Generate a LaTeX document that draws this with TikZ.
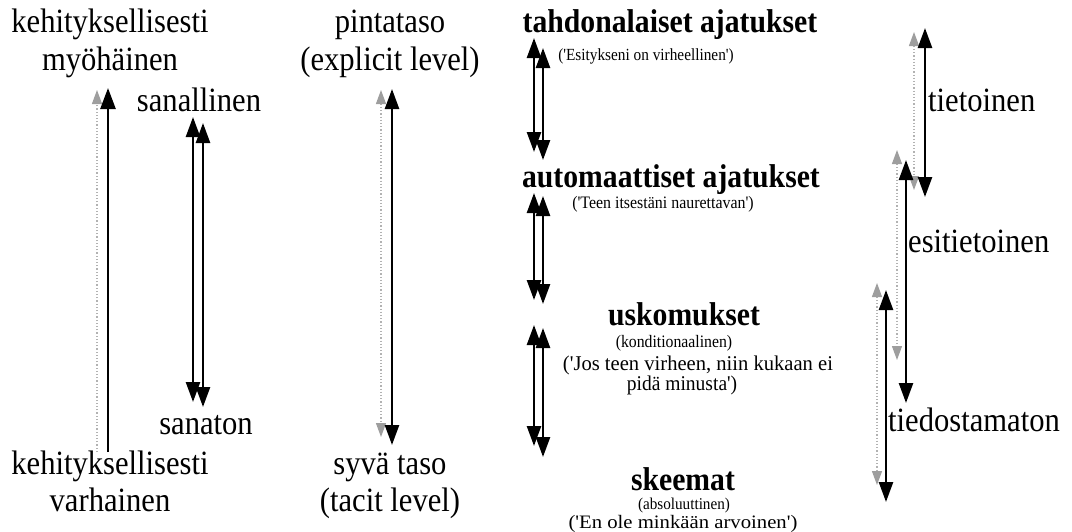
\documentclass[tikz,border=0pt]{standalone}
\usepackage{fontspec}
\setmainfont{Liberation Serif}[Ligatures=TeXOff]
\usetikzlibrary{arrows.meta}

\tikzset{
  big/.style={font=\fontsize{34}{38}\selectfont\addfontfeatures{FakeStretch=0.9}, inner sep=0pt, anchor=base},
  title/.style={font=\bfseries\fontsize{33}{37}\selectfont\addfontfeatures{FakeStretch=0.9}, inner sep=0pt, anchor=base},
  small/.style 2 args={font=\fontsize{#1}{#1}\selectfont\addfontfeatures{FakeStretch=#2}, inner sep=0pt, anchor=base},
  up/.style={line width=2.6pt, -{Triangle[width=15pt,length=21pt]}},
  both/.style={line width=2.5pt, {Triangle[width=14pt,length=20pt]}-{Triangle[width=14pt,length=20pt]}},
  ghost/.style={draw=black!30, dotted, line width=1.2pt},
  ghostup/.style={ghost, -{Triangle[width=10pt,length=14pt,color=black!38]}},
  ghostboth/.style={ghost, {Triangle[width=10pt,length=14pt,color=black!38]}-{Triangle[width=10pt,length=14pt,color=black!38]}}
}

\begin{document}
\begin{tikzpicture}[x=1pt,y=-1pt]
\useasboundingbox (0,0) rectangle (1072,531);

% ---- developmental axis ----
\node[big] (kehT)  at (110,32)  {kehityksellisesti};
\node[big] (myoh)  at (110,70)  {myöhäinen};
\node[big] (kehB)  at (110,474) {kehityksellisesti};
\node[big] (varh)  at (110,511) {varhainen};
\node[big] (sanal) at (199,111) {sanallinen};
\node[big] (sanat) at (206,434) {sanaton};

\coordinate (a1b) at (108,452);  \coordinate (a1t) at (108,88);
\coordinate (g1b) at (97,452);   \coordinate (g1t) at (97,90);
\draw[ghostup] (g1b) -- (g1t);
\draw[up] (a1b) -- (a1t);

\coordinate (s1t) at (193,117);  \coordinate (s1b) at (193,402);
\coordinate (s2t) at (203,123);  \coordinate (s2b) at (203,407);
\draw[both] (s1t) -- (s1b);
\draw[both] (s2t) -- (s2b);

% ---- level axis ----
\node[big] (pint)  at (390,32)  {pintataso};
\node[big] (expl)  at (390,70)  {(explicit level)};
\node[big] (syva)  at (390,474) {syvä taso};
\node[big] (tacit) at (390,511) {(tacit level)};

\coordinate (l1t) at (392,89);   \coordinate (l1b) at (392,445);
\coordinate (g2t) at (381,90);   \coordinate (g2b) at (381,437);
\draw[ghostboth] (g2t) -- (g2b);
\draw[both] (l1t) -- (l1b);

% ---- cognition levels ----
\node[title] (tahd) at (670,32)  {tahdonalaiset ajatukset};
\node[small={17}{0.9}]    (esit) at (646,60)  {('Esitykseni on virheellinen')};
\node[title] (auto) at (671,187) {automaattiset ajatukset};
\node[small={17.5}{0.91}] (teen) at (663,208) {('Teen itsestäni naurettavan')};
\node[title] (usko) at (684,325) {uskomukset};
\node[small={17.5}{0.9}]  (kond) at (674,347) {(konditionaalinen)};
\node[small={21}{0.98}]   (jos)  at (698,370) {('Jos teen virheen, niin kukaan ei};
\node[small={21}{0.93}]   (pida) at (682,390) {pidä minusta')};
\node[title] (skee) at (683,490) {skeemat};
\node[small={16.5}{0.92}] (abso) at (684,509) {(absoluuttinen)};
\node[small={19}{1.09}]   (enol) at (683,528) {('En ole minkään arvoinen')};

\coordinate (p1lt) at (534,38);  \coordinate (p1lb) at (534,152);
\coordinate (p1rt) at (543,48);  \coordinate (p1rb) at (543,160);
\coordinate (p2lt) at (534,193); \coordinate (p2lb) at (534,300);
\coordinate (p2rt) at (543,196); \coordinate (p2rb) at (543,304);
\coordinate (p3lt) at (534,325); \coordinate (p3lb) at (534,446);
\coordinate (p3rt) at (543,328); \coordinate (p3rb) at (543,457);
\draw[both] (p1lt) -- (p1lb);
\draw[both] (p1rt) -- (p1rb);
\draw[both] (p2lt) -- (p2lb);
\draw[both] (p2rt) -- (p2rb);
\draw[both] (p3lt) -- (p3lb);
\draw[both] (p3rt) -- (p3rb);

% ---- awareness axis ----
\node[big, anchor=base west] (tiet) at (928,111) {tietoinen};
\node[big, anchor=base west] (esti) at (908,252) {esitietoinen};
\node[big, anchor=base west] (tied) at (888,431) {tiedostamaton};

\coordinate (g3t) at (914,32);  \coordinate (g3b) at (914,190);
\coordinate (g4t) at (897,150); \coordinate (g4b) at (897,360);
\coordinate (g5t) at (877,283); \coordinate (g5b) at (877,485);
\draw[ghostboth] (g3t) -- (g3b);
\draw[ghostboth] (g4t) -- (g4b);
\draw[ghostboth] (g5t) -- (g5b);

\coordinate (t1t) at (925,28);  \coordinate (t1b) at (925,197);
\coordinate (t2t) at (906,160); \coordinate (t2b) at (906,403);
\coordinate (t3t) at (886,290); \coordinate (t3b) at (886,502);
\draw[both] (t1t) -- (t1b);
\draw[both] (t2t) -- (t2b);
\draw[both] (t3t) -- (t3b);
\end{tikzpicture}
\end{document}
